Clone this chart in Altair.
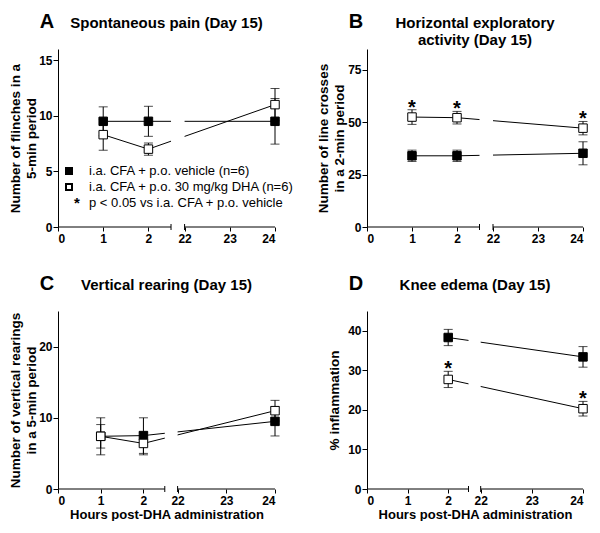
import altair as alt
import pandas as pd

FONT = "Liberation Sans"
W_LEFT, W_RIGHT, H = 217, 216, 178

# ---- data (mean, SEM) ----
hours_abc = [1, 2, 24]
hours_d = [2, 24]

a_veh_mean = [9.5, 9.5, 9.5]
a_veh_sem = [1.3, 1.35, 2.05]
a_dha_mean = [8.3, 7.0, 11.0]
a_dha_sem = [1.4, 0.55, 1.45]
a_dha_sig = [False, False, False]

b_veh_mean = [34.0, 34.0, 35.2]
b_veh_sem = [2.7, 2.7, 5.5]
b_dha_mean = [52.5, 52.2, 47.2]
b_dha_sem = [3.5, 3.0, 3.2]
b_dha_sig = [True, True, True]

c_veh_mean = [7.4, 7.5, 9.5]
c_veh_sem = [2.6, 2.5, 2.05]
c_dha_mean = [7.4, 6.4, 11.0]
c_dha_sem = [1.65, 1.6, 1.45]
c_dha_sig = [False, False, False]

d_veh_mean = [38.3, 33.4]
d_veh_sem = [2.05, 2.6]
d_dha_mean = [27.7, 20.3]
d_dha_sem = [2.05, 1.85]
d_dha_sig = [True, True]

legend_labels = ["i.a. CFA + p.o. vehicle (n=6)",
                 "i.a. CFA + p.o. 30 mg/kg DHA (n=6)",
                 "p < 0.05 vs i.a. CFA + p.o. vehicle"]

x_title = "Hours post-DHA administration"

one = pd.DataFrame({"i": [0]})


def panel(letter, title, ytitle, tpad, ymax, yvals, hrs, vm, vs, dm, ds,
          dsig, k, W, xtitle=None, legend=False):
    rows = []
    for h, m, s in zip(hrs, vm, vs):
        rows.append(dict(group="vehicle", hour=h, mean=m, sem=s, sig=False))
    for h, m, s, g in zip(hrs, dm, ds, dsig):
        rows.append(dict(group="DHA", hour=h, mean=m, sem=s, sig=g))
    df = pd.DataFrame(rows)

    xmax = 2.8 + 2 * k
    xs = alt.Scale(domain=[0, xmax], nice=False)
    ys = alt.Scale(domain=[0, ymax], nice=False)

    xkw = dict(values=[0, 1, 2, 2.8, 2.8 + k, 2.8 + 2 * k],
               labelExpr=f"datum.value < 2.6 ? datum.value : round(22 + (datum.value - 2.8) / {k})",
               domain=False, ticks=True, tickSize=4, labelPadding=2,
               labelFontSize=12, labelFontWeight="bold", grid=False)
    if xtitle:
        xkw.update(title=xtitle, titleFontSize=13, titleFontWeight="bold",
                   titlePadding=2)
    else:
        xkw["title"] = None
    xax = alt.Axis(**xkw)
    yax = alt.Axis(values=yvals, title=ytitle, titleFontSize=13.5,
                   titleFontWeight="bold", titleLineHeight=16,
                   titlePadding=tpad, labelFontSize=12, labelFontWeight="bold",
                   tickSize=5, labelPadding=1, grid=False)

    def X(f):
        return alt.X(f, scale=xs, axis=xax)

    def Y(f):
        return alt.Y(f, scale=ys, axis=yax)

    base = alt.Chart(df).transform_calculate(
        pos=f"datum.hour <= 2.5 ? datum.hour : 2.8 + (datum.hour - 22) * {k}",
        lo="datum.mean - datum.sem",
        hi="datum.mean + datum.sem",
    )

    lines = base.mark_line(color="black", strokeWidth=1).encode(
        x=X("pos:Q"), y=Y("mean:Q"), detail="group:N")
    gap = alt.Chart(pd.DataFrame({"g0": [2.5], "g1": [2.8]})).mark_rect(
        color="white").encode(
        x=X("g0:Q"), x2="g1:Q", y=alt.value(0), y2=alt.value(H))
    bars = base.mark_rule(color="black", strokeWidth=1).encode(
        x=X("pos:Q"), y=Y("lo:Q"), y2="hi:Q")
    cap_lo = base.mark_tick(color="black", orient="horizontal", size=9,
                            thickness=1).encode(x=X("pos:Q"), y=Y("lo:Q"))
    cap_hi = base.mark_tick(color="black", orient="horizontal", size=9,
                            thickness=1).encode(x=X("pos:Q"), y=Y("hi:Q"))
    pts = base.mark_point(shape="square", filled=True, size=72, stroke="black",
                          strokeWidth=1, opacity=1).encode(
        x=X("pos:Q"), y=Y("mean:Q"),
        fill=alt.Fill("group:N", scale=alt.Scale(domain=["vehicle", "DHA"],
                                                 range=["black", "white"]),
                      legend=None))
    stars = base.transform_filter("datum.sig").mark_text(
        text="*", fontSize=20, fontWeight="bold", baseline="alphabetic",
        dy=4, color="black").encode(x=X("pos:Q"), y=Y("hi:Q"))
    xline = alt.Chart(pd.DataFrame({"x0": [0, 2.8], "x1": [2.5, xmax]})).mark_rule(
        color="black", strokeWidth=1).encode(
        x=X("x0:Q"), x2="x1:Q", y=alt.value(H))
    xcaps = alt.Chart(pd.DataFrame({"b": [2.5, 2.8]})).mark_rule(
        color="black", strokeWidth=1).encode(
        x=X("b:Q"), y=alt.value(H - 3), y2=alt.value(H + 3))
    let = alt.Chart(one).mark_text(text=letter, fontSize=20, fontWeight="bold",
                                   align="center", baseline="alphabetic",
                                   color="black").encode(
        x=alt.value(-11), y=alt.value(-21))
    ttl = alt.Chart(one).mark_text(text=title, fontSize=15, fontWeight="bold",
                                   align="center", baseline="alphabetic",
                                   lineHeight=17, color="black").encode(
        x=alt.value(W / 2), y=alt.value(-21))

    layers = [lines, gap, bars, cap_lo, cap_hi, pts, stars, xline, xcaps,
              let, ttl]

    if legend:
        layers += [
            alt.Chart(one).mark_point(shape="square", filled=True, size=36,
                                      fill="black", stroke="black", opacity=1).encode(
                x=alt.value(11), y=alt.value(H - 56)),
            alt.Chart(one).mark_point(shape="square", filled=True, size=36,
                                      fill="white", stroke="black", opacity=1).encode(
                x=alt.value(11), y=alt.value(H - 40)),
            alt.Chart(one).mark_text(text="*", fontSize=15, fontWeight="bold",
                                     baseline="middle", align="center",
                                     color="black").encode(
                x=alt.value(19), y=alt.value(H - 24)),
        ]
        for i, lab in enumerate(legend_labels):
            layers.append(alt.Chart(one).mark_text(
                text=lab, fontSize=13, align="left", baseline="middle",
                color="black").encode(x=alt.value(31),
                                      y=alt.value(H - 56 + 16 * i)))

    return alt.layer(*layers).properties(width=W, height=H)


pA = panel("A", ["Spontaneous pain (Day 15)"],
           ["Number of flinches in a", "5-min period"], 0, 16, [0, 5, 10, 15],
           hours_abc, a_veh_mean, a_veh_sem, a_dha_mean, a_dha_sem, a_dha_sig,
           1.0, W_LEFT, legend=True)
pB = panel("B", ["Horizontal exploratory", "activity (Day 15)"],
           ["Number of line crosses", "in a 2-min period"], 1, 85,
           [0, 25, 50, 75],
           hours_abc, b_veh_mean, b_veh_sem, b_dha_mean, b_dha_sem, b_dha_sig,
           1.0, W_RIGHT)
pC = panel("C", ["Vertical rearing (Day 15)"],
           ["Number of vertical rearings", "in a 5-min period"], 0, 25,
           [0, 10, 20],
           hours_abc, c_veh_mean, c_veh_sem, c_dha_mean, c_dha_sem, c_dha_sig,
           1.14, W_LEFT, xtitle=x_title)
pD = panel("D", ["Knee edema (Day 15)"], "% inflammation", 6, 45,
           [0, 10, 20, 30, 40],
           hours_d, d_veh_mean, d_veh_sem, d_dha_mean, d_dha_sem, d_dha_sig,
           1.26, W_RIGHT, xtitle=x_title)

chart = alt.concat(pA, pB, pC, pD, columns=2,
                   spacing={"row": 84, "column": 92}, bounds="flush").properties(
    padding={"top": 4, "left": 0, "right": 0, "bottom": 0}
).configure(font=FONT).configure_view(stroke=None).configure_axis(
    labelColor="black", titleColor="black", tickColor="black",
    domainColor="black", labelFont=FONT, titleFont=FONT,
    labelFontWeight="bold", titleFontWeight="bold")

chart.save("out.html", embed_options={"renderer": "svg", "actions": False})
